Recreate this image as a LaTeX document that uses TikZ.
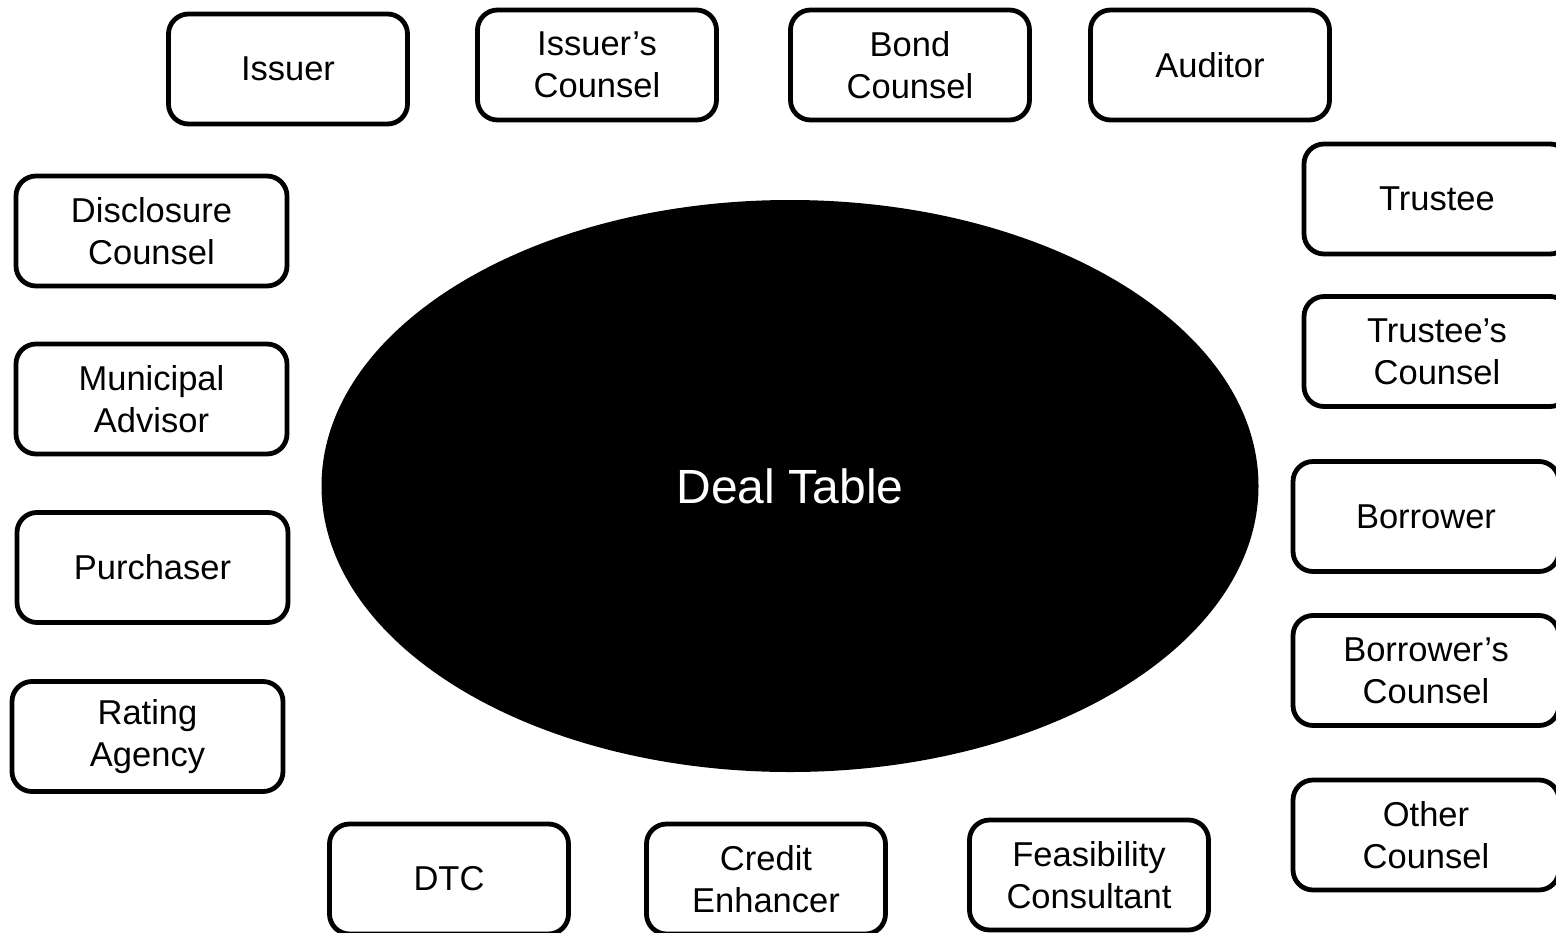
\documentclass[tikz,border=0pt]{standalone}
\usepackage{fontspec}
\setmainfont{Liberation Sans}
\usetikzlibrary{shapes.geometric}

\begin{document}
\begin{tikzpicture}[x=1pt, y=-1pt,
    party/.style={draw, line width=4.8pt, rounded corners=20pt, minimum width=239pt, minimum height=110pt, align=center, font=\fontsize{34.5}{42}\selectfont},
    sideparty/.style={party, minimum width=271pt},
    rightparty/.style={party, minimum width=266pt},
    dealtable/.style={ellipse, fill=black, inner sep=0pt, minimum width=937pt, minimum height=572pt, text=white, font=\fontsize{48}{56}\selectfont}]
\useasboundingbox (0,0) rectangle (1556,932);
\clip (0,0) rectangle (1556,932);
% Table in the middle
\node[dealtable] (table) at (790,486) {Deal Table};
% Top row
\node[party] (issuer) at (288,69) {Issuer};
\node[party] (issuercounsel) at (597,65) {Issuer's\\Counsel};
\node[party] (bondcounsel) at (910,65) {Bond\\Counsel};
\node[party] (auditor) at (1210,65) {Auditor};
% Left column
\node[sideparty] (disclosure) at (151.5,231) {Disclosure\\Counsel};
\node[sideparty] (advisor) at (151.5,399) {Municipal\\Advisor};
\node[sideparty] (purchaser) at (152.5,567.5) {Purchaser};
\node[sideparty] (rating) at (147.5,736.5) {Rating\\Agency};
% Right column
\node[rightparty] (trustee) at (1437,199) {Trustee};
\node[rightparty] (trusteecounsel) at (1437,351.5) {Trustee's\\Counsel};
\node[rightparty] (borrower) at (1426,516.5) {Borrower};
\node[rightparty] (borrowercounsel) at (1426,670.5) {Borrower's\\Counsel};
\node[rightparty] (othercounsel) at (1426,835) {Other\\Counsel};
% Bottom row
\node[party] (dtc) at (449,879) {DTC};
\node[party] (enhancer) at (766,879) {Credit\\Enhancer};
\node[party] (feasibility) at (1089,875) {Feasibility\\Consultant};
\end{tikzpicture}
\end{document}
